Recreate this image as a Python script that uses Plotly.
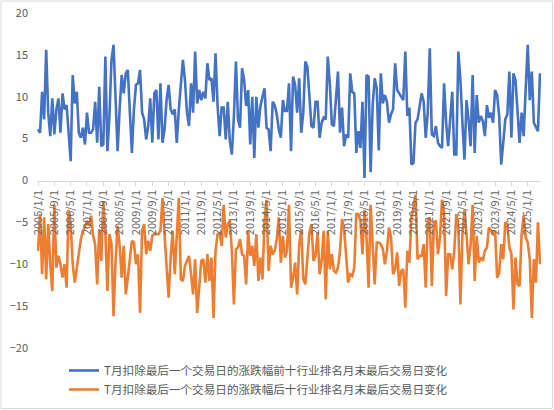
import plotly.graph_objects as go

# monthly dates, 2005/1 .. 2025/7
months = [f"{2005 + i // 12}/{i % 12 + 1}/1" for i in range(247)]

top10 = [
    6.1, 5.7, 10.6, 7.3, 15.6, 8.1, 5.3, 9.8, 5.5, 8.5, 9.8, 5.7, 10.4, 8.5, 9.0, 6.1,
    2.3, 12.6, 9.2, 10.6, 5.7, 5.1, 6.3, 4.3, 8.1, 5.7, 5.7, 6.1, 9.4, 4.5, 11.2, 4.1,
    4.3, 14.8, 3.5, 7.7, 14.4, 16.2, 10.0, 3.5, 8.5, 12.6, 10.4, 12.8, 13.2, 8.1, 3.3, 8.5,
    11.4, 11.6, 13.2, 8.1, 7.3, 4.9, 6.5, 9.8, 4.5, 10.4, 10.8, 4.9, 11.6, 4.5, 6.1, 9.6,
    11.4, 8.5, 7.9, 8.5, 4.5, 8.5, 12.0, 14.4, 12.0, 8.1, 6.5, 11.6, 8.1, 15.4, 9.2, 10.8,
    9.6, 10.6, 9.8, 14.0, 12.0, 12.2, 9.4, 15.2, 8.9, 5.3, 8.7, 8.7, 4.9, 9.4, 4.7, 3.1,
    7.7, 14.2, 7.3, 6.3, 13.4, 12.0, 8.9, 10.8, 4.3, 10.0, 2.7, 10.0, 6.3, 8.9, 10.0, 11.0,
    6.3, 6.1, 3.5, 9.4, 9.0, 7.9, 6.1, 5.1, 9.6, 8.3, 8.3, 11.6, 3.5, 12.4, 11.4, 8.1,
    12.2, 5.7, 8.1, 14.2, 13.6, 10.4, 6.5, 6.3, 9.4, 9.4, 5.1, 6.9, 7.5, 7.3, 14.8, 11.6,
    6.7, 6.5, 10.0, 13.0, 5.7, 8.7, 4.1, 5.5, 5.1, 12.8, 10.6, 10.4, 3.3, 5.9, 3.9, 9.4,
    0.3, 12.6, 12.4, 1.0, 9.0, 12.2, 11.0, 3.6, 12.8, 9.2, 10.2, 9.4, 6.9, 7.9, 8.5, 14.0,
    10.8, 10.4, 10.0, 9.6, 15.4, 7.7, 8.7, 1.9, 2.1, 6.9, 7.3, 9.0, 10.4, 9.4, 5.1, 8.1,
    15.8, 5.5, 5.3, 6.5, 4.5, 4.1, 3.9, 11.6, 6.9, 4.1, 7.5, 10.6, 3.1, 3.1, 15.4, 12.0,
    6.9, 2.5, 9.6, 7.3, 4.1, 12.6, 3.3, 10.2, 6.9, 7.7, 7.1, 5.3, 9.0, 7.5, 8.1, 6.9,
    10.8, 10.2, 7.7, 1.9, 4.5, 7.3, 7.9, 13.0, 5.1, 12.8, 12.0, 8.1, 4.5, 8.1, 5.3, 11.0,
    16.2, 9.6, 13.0, 6.9, 6.3, 5.9, 12.8,
]

bottom10 = [
    -8.4, -4.0, -11.2, -4.4, -11.8, -5.2, -10.0, -13.2, -2.9, -10.4, -9.0, -10.0, -11.6, -10.0, -12.8, -3.5,
    -5.2, -10.0, -12.2, -10.4, -9.0, -7.0, -6.0, -5.6, -4.8, -5.4, -4.2, -6.6, -7.6, -12.4, -5.8, -9.6,
    -2.5, -6.2, -13.2, -6.4, -7.6, -16.2, -9.6, -5.4, -7.8, -11.6, -7.8, -13.6, -11.6, -9.2, -7.2, -7.4,
    -10.0, -8.8, -15.8, -6.0, -5.2, -8.8, -7.2, -8.4, -6.6, -6.4, -6.4, -6.4, -6.0, -2.1, -6.4, -10.8,
    -14.0, -9.2, -6.0, -11.2, -6.4, -2.1, -11.8, -12.0, -10.2, -9.6, -9.0, -11.2, -13.6, -9.4, -15.8, -12.8,
    -9.6, -9.4, -12.2, -8.8, -12.0, -9.2, -16.4, -8.4, -6.4, -6.2, -7.8, -2.9, -6.8, -5.2, -4.8, -8.4,
    -14.8, -8.2, -8.0, -7.0, -8.8, -9.0, -12.4, -6.0, -9.0, -7.8, -10.2, -6.4, -12.0, -9.2, -11.8, -5.0,
    -2.3, -10.8, -7.8, -8.8, -8.4, -7.0, -4.4, -9.8, -6.6, -9.2, -8.4, -2.9, -12.8, -11.6, -9.8, -13.6,
    -7.6, -5.8, -11.8, -12.4, -9.6, -6.2, -5.2, -9.6, -9.0, -6.2, -11.2, -9.6, -6.0, -14.2, -6.0, -10.6,
    -8.8, -10.8, -11.0, -10.4, -8.4, -4.6, -5.8, -9.4, -12.2, -11.2, -11.4, -10.4, -4.0, -4.0, -4.8, -8.8,
    -3.5, -6.8, -12.8, -2.9, -8.4, -12.4, -7.4, -7.4, -7.6, -8.2, -10.0, -8.4, -5.6, -6.8, -11.2, -10.6,
    -8.6, -12.6, -10.8, -10.6, -15.2, -8.4, -9.8, -4.4, -3.3, -1.7, -9.4, -9.0, -9.0, -7.6, -12.8, -4.8,
    -4.4, -12.6, -5.0, -4.8, -8.8, -6.8, -2.3, -3.7, -13.8, -8.8, -8.8, -10.6, -8.4, -4.0, -5.6, -14.8,
    -6.4, -3.5, -6.4, -10.0, -7.8, -2.9, -12.0, -6.6, -9.8, -9.2, -9.6, -8.4, -8.0, -5.6, -6.0, -6.4,
    -6.0, -11.6, -11.0, -7.6, -9.4, -5.0, -5.2, -8.0, -8.8, -15.4, -9.2, -12.4, -12.6, -6.4, -4.2, -6.8,
    -7.4, -9.4, -16.4, -9.4, -12.2, -5.0, -10.0,
]

names = [
    "T月扣除最后一个交易日的涨跌幅前十行业排名月末最后交易日变化",
    "T月扣除最后一个交易日的涨跌幅后十行业排名月末最后交易日变化",
]
colors = ["#4472C4", "#ED7D31"]

font = "Noto Sans CJK SC"
grey = "#595959"

fig = go.Figure()
for vals, name, c in zip([top10, bottom10], names, colors):
    fig.add_trace(go.Scatter(x=months, y=vals, name=name, mode="lines",
                             line=dict(color=c, width=2.6)))

W, H = 554, 410
ml, mr, mt, mb = 37, 13, 13, 62
pw, ph = W - ml - mr, H - mt - mb

fig.update_layout(
    width=W, height=H,
    margin=dict(l=ml, r=mr, t=mt, b=mb, autoexpand=False),
    paper_bgcolor="white", plot_bgcolor="white",
    font=dict(family=font, color=grey, size=11),
    showlegend=True,
    legend=dict(orientation="v", x=(64 - ml) / pw, xanchor="left",
                y=-8 / ph, yanchor="top", font=dict(size=11.6, color=grey),
                tracegroupgap=2, itemwidth=30),
    xaxis=dict(type="category", tickmode="array", tickvals=months[::8],
               tickangle=-90, tickfont=dict(size=11, color="#666666"),
               showline=True, linecolor="#D9D9D9", linewidth=1,
               ticks="outside", ticklen=4, tickcolor="#D9D9D9",
               showgrid=False, zeroline=False, automargin=False,
               anchor="free", position=0.5, range=[-0.5, len(months) - 0.5]),
    yaxis=dict(range=[-20, 20], dtick=5, showgrid=False, zeroline=False,
               showline=False, tickfont=dict(size=11, color=grey),
               ticklabelstandoff=8, automargin=False),
    shapes=[dict(type="rect", xref="paper", yref="paper",
                 x0=-(ml - 1) / pw, x1=1 + (mr - 1.5) / pw,
                 y0=-(mb - 1.5) / ph, y1=1 + (mt - 1) / ph,
                 line=dict(color="#D9D9D9", width=1))],
)

# the page's body has a default 8px margin; drop it so the chart sits at 0,0
fig.write_html("out.html", config={"displayModeBar": False},
               post_script="document.body.style.margin='0';")
